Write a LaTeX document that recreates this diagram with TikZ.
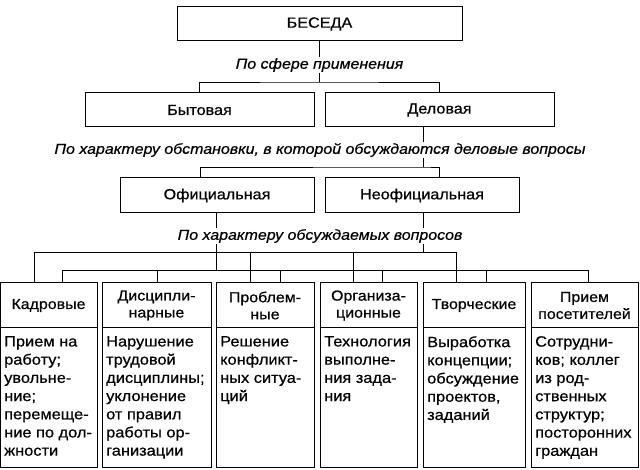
\documentclass[tikz,border=0pt]{standalone}
\usepackage{fontspec}
\setmainfont{Liberation Sans}[FakeStretch=1.1,FakeBold=0.6]
\begin{document}
\begin{tikzpicture}[x=1pt,y=-1pt,
  box/.style={draw,line width=1pt,inner sep=0pt},
  lbl/.style={font=\itshape\fontsize{14.5}{16}\selectfont,fill=white,inner sep=1pt},
  tf/.style={font=\fontsize{14.7}{16}\selectfont},
  hd/.style={font=\fontsize{14.5}{17}\selectfont,align=center},
  bd/.style={font=\fontsize{14.9}{18.2}\selectfont,align=left,anchor=north west,inner sep=0pt},
  ln/.style={line width=0.9pt}]
\useasboundingbox (0,0) rectangle (640,470);
% top
\node[box,tf,minimum width=285pt,minimum height=34pt] (b) at (319.5,24) {БЕСЕДА};
\node[box,tf,minimum width=229pt,minimum height=34pt] (byt) at (199.5,110) {Бытовая};
\node[box,tf,minimum width=229pt,minimum height=34pt] (del) at (439.5,110) {Деловая};
\node[box,tf,minimum width=194pt,minimum height=35pt] (off) at (217,195.5) {Официальная};
\node[box,tf,minimum width=194pt,minimum height=35pt] (neo) at (422,195.5) {Неофициальная};
\coordinate (t1) at (319.5,82);
\coordinate (t2) at (423,167);
\coordinate (t3) at (216,270);
\coordinate (t4) at (423,252);
\draw[ln] (b.south) -- (t1);
\draw[ln] (byt.north) |- (t1) -| (del.north);
\draw[ln] (del.south -| t2) -- (t2);
\draw[ln] (off.north -| 200,0) |- (t2) -| (neo.north -| 439,0);
\draw[ln] (off.south -| t3) -- (t3);
\draw[ln] (neo.south -| t4) -- (t4);
% columns
\foreach \n/\a/\c/\h/\t in {
 c1/0/97/{Кадровые}/{Прием на\\работу;\\увольне-\\ние;\\перемеще-\\ние по дол-\\жности},
 c2/102/211/{Дисципли-\\нарные}/{Нарушение\\трудовой\\дисциплины;\\уклонение\\от правил\\работы ор-\\ганизации},
 c3/216/314/{Проблем-\\ные}/{Решение\\конфликт-\\ных ситуа-\\ций},
 c4/320/417/{Организа-\\ционные}/{Технология\\выполне-\\ния зада-\\ния},
 c5/423/525/{Творческие}/{Выработка\\концепции;\\обсуждение\\проектов,\\заданий},
 c6/531/638/{Прием\\посетителей}/{Сотрудни-\\ков; коллег\\из род-\\ственных\\структур;\\посторонних\\граждан}}{
  \draw[line width=1pt] (\a,283) rectangle (\c,467);
  \draw[line width=1pt] (\a,328) -- (\c,328);
  \node[hd] (\n h) at ({(\a+\c)/2},305.5) {\h};
  \node[bd] (\n b) at (\a+4,336) {\t};
  \coordinate (\n) at ({(\a+\c)/2},283);
}
\coordinate (u) at (34,252);
\coordinate (l) at (62,270);
\draw[ln] (u) -- (456,252);
\draw[ln] (l) -- (588,270);
\foreach \x in {34,250,353,456} \draw[ln] (\x,252) -- (\x,283);
\foreach \x in {62,157,280,382,486,588} \draw[ln] (\x,270) -- (\x,283);
% labels
\node[lbl] (l1) at (319.5,65) {По сфере применения};
\node[lbl] (l2) at (320,150) {По характеру обстановки, в которой обсуждаются деловые вопросы};
\node[lbl] (l3) at (320,236) {По характеру обсуждаемых вопросов};
\end{tikzpicture}
\end{document}
